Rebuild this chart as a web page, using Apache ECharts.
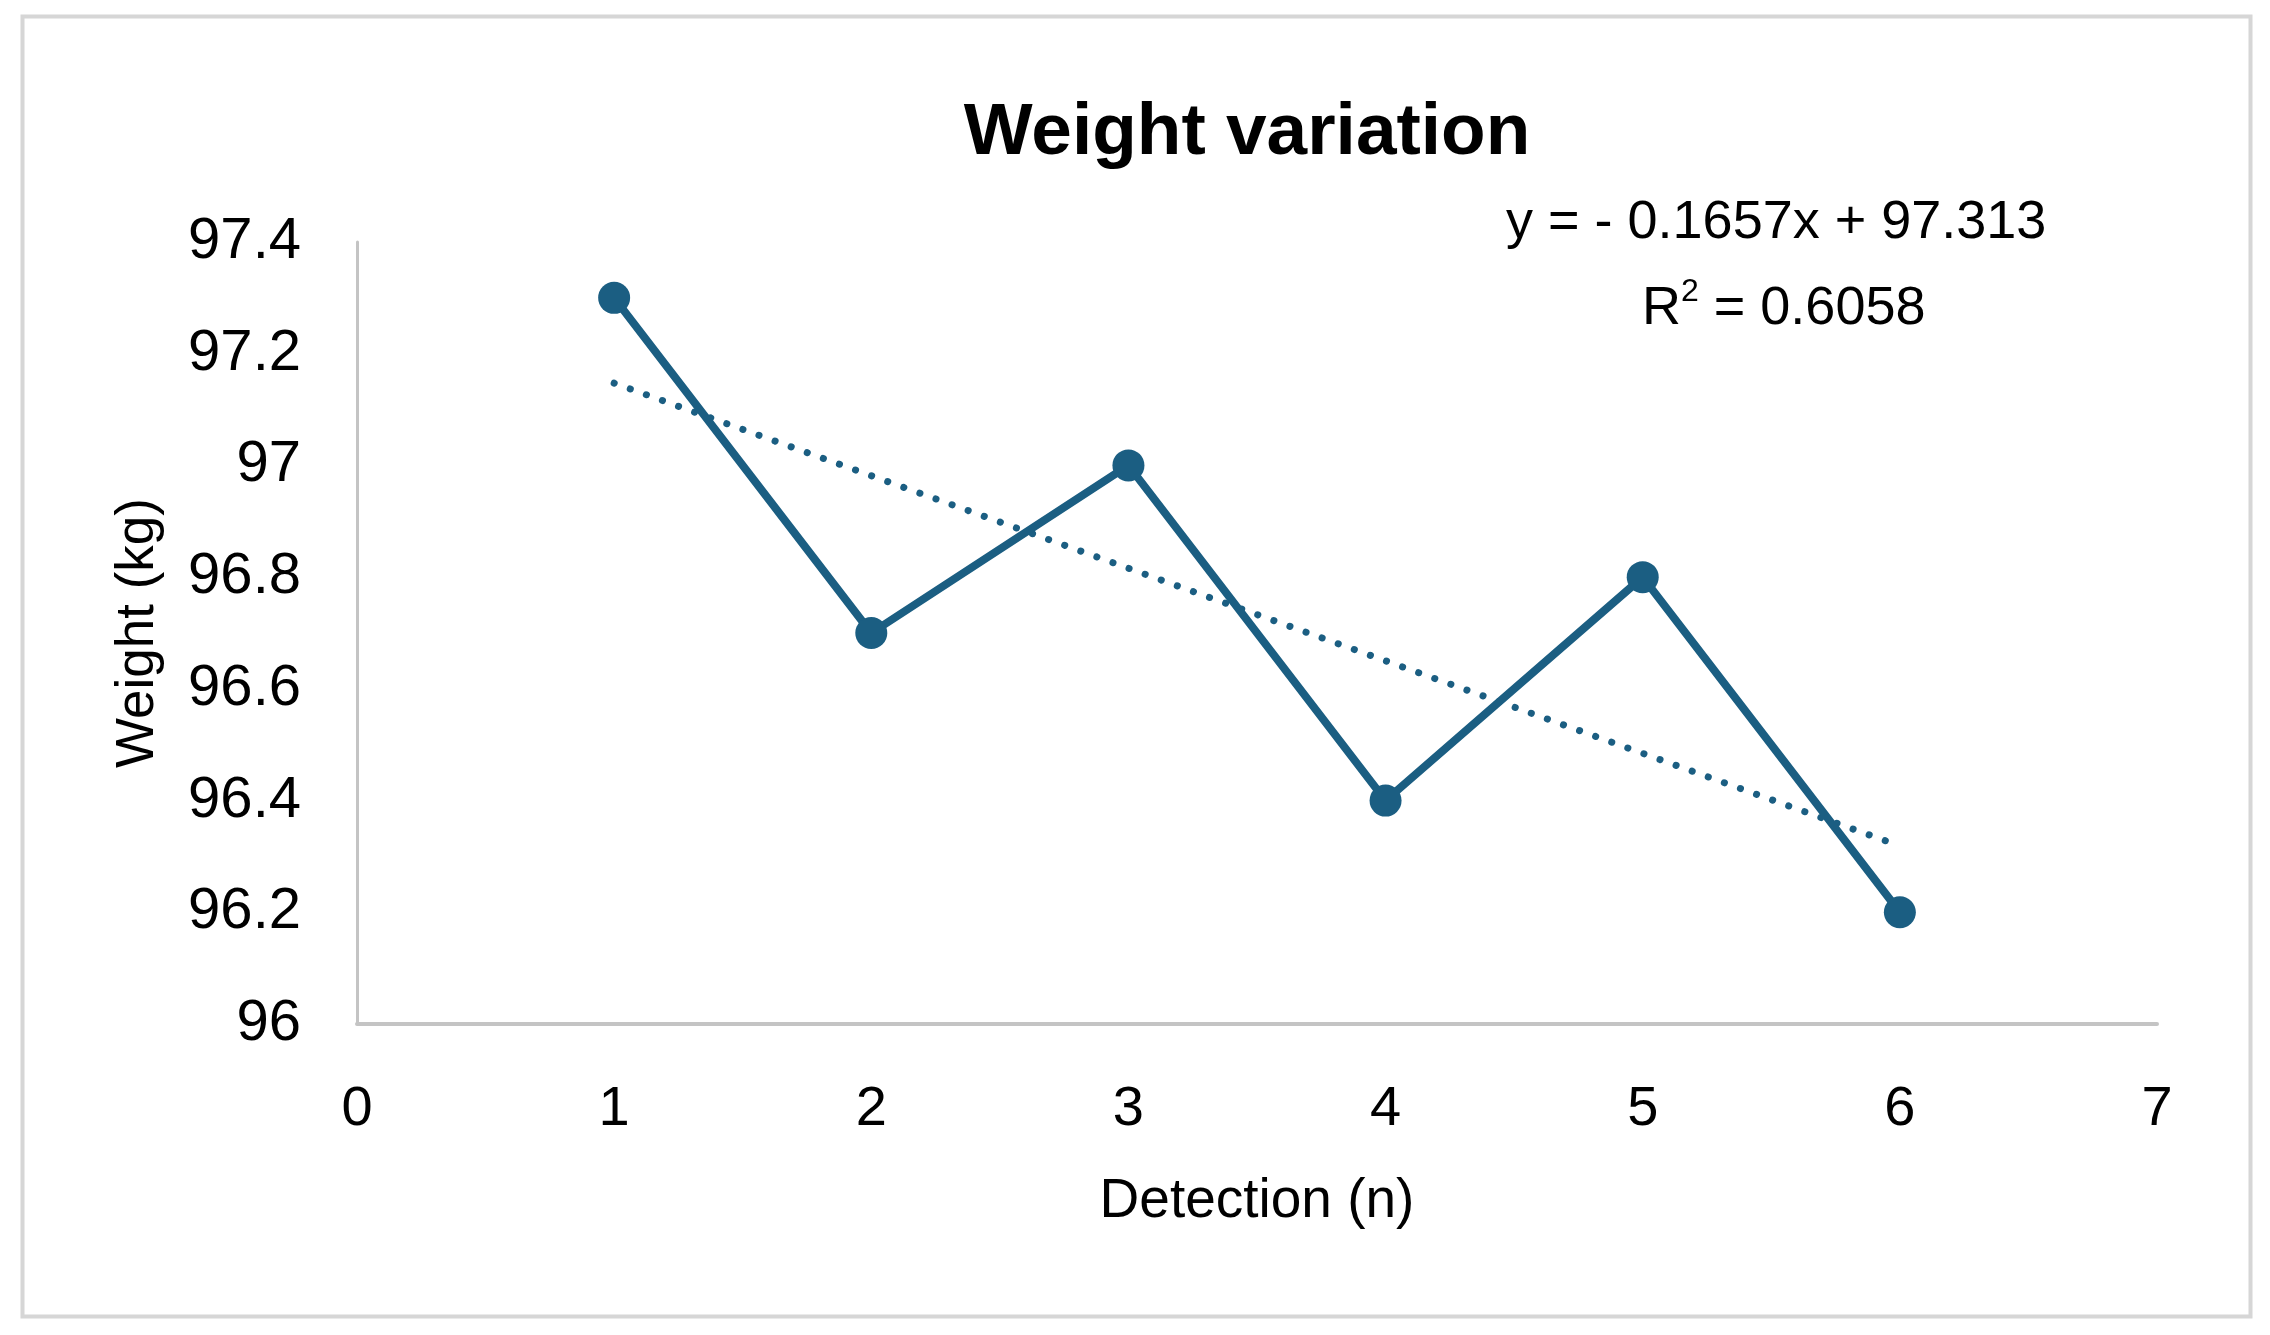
<!DOCTYPE html>
<html>
<head>
<meta charset="utf-8">
<script src="https://cdn.jsdelivr.net/npm/echarts@6/dist/echarts.min.js"></script>
<style>
html,body{margin:0;padding:0;background:#fff;}
#chart{width:2270px;height:1335px;}
</style>
</head>
<body>
<div id="chart"></div>
<script>
const detections = [1, 2, 3, 4, 5, 6];
const weights = [97.3, 96.7, 97.0, 96.4, 96.8, 96.2];
const trendCoef = [-0.1657, 97.313]; // slope, intercept (from the chart's equation)
const trendRange = [1, 6];
const xTicks = [0, 1, 2, 3, 4, 5, 6, 7];
const yTicks = [96, 96.2, 96.4, 96.6, 96.8, 97, 97.2, 97.4];
const equationText = 'y = - 0.1657x + 97.313';
const r2Value = '0.6058';

const mainColor = '#1B5E82';
const font = '"Liberation Sans", Arial, sans-serif';

const pts = detections.map((x, i) => [x, weights[i]]);
const trendPts = trendRange.map(x => [x, trendCoef[0] * x + trendCoef[1]]);

const chart = echarts.init(document.getElementById('chart'), null, {renderer: 'canvas'});
chart.setOption({
  backgroundColor: '#ffffff',
  animation: false,
  title: {
    text: 'Weight variation',
    left: 1242, top: 92,
    textAlign: 'center',
    textStyle: {fontFamily: font, fontSize: 73, fontWeight: 'bold', color: '#000'}
  },
  graphic: [
    {type: 'rect', left: 20, top: 14, shape: {width: 2228, height: 1300},
     style: {fill: 'none', stroke: '#d6d6d6', lineWidth: 4}, z: -1},
    {type: 'text', left: 1506, top: 196,
     style: {text: equationText, font: '54px "Liberation Sans", Arial, sans-serif', fill: '#000'}},
    {type: 'text', left: 1642, top: 276,
     style: {
       text: '{b|R}{s|2}{b| = ' + r2Value + '}',
       rich: {
         b: {fontSize: 54, fontFamily: font, color: '#000', verticalAlign: 'bottom', lineHeight: 60},
         s: {fontSize: 32, fontFamily: font, color: '#000', verticalAlign: 'top', lineHeight: 60, padding: [0, 0, 26, 0]}
       }
     }}
  ],
  grid: {left: 357, right: 113, top: 242, bottom: 311, containLabel: false},
  xAxis: {
    type: 'value', min: xTicks[0], max: xTicks[xTicks.length - 1], interval: 1,
    name: 'Detection (n)', nameLocation: 'middle', nameGap: 150,
    nameTextStyle: {fontFamily: font, fontSize: 55, color: '#000'},
    axisLine: {show: true, lineStyle: {color: '#c4c4c4', width: 4}},
    axisTick: {show: false},
    splitLine: {show: false},
    axisLabel: {fontFamily: font, fontSize: 56, color: '#000', margin: 58}
  },
  yAxis: {
    type: 'value', min: yTicks[0], max: yTicks[yTicks.length - 1], interval: 0.2,
    name: 'Weight (kg)', nameLocation: 'middle', nameGap: 192,
    nameTextStyle: {fontFamily: font, fontSize: 53, color: '#000'},
    axisLine: {show: true, lineStyle: {color: '#c4c4c4', width: 3}},
    axisTick: {show: false},
    splitLine: {show: false},
    axisLabel: {fontFamily: font, fontSize: 58, color: '#000', margin: 56,
      formatter: v => String(Math.round(v * 10) / 10)}
  },
  series: [
    {
      type: 'line', data: trendPts, symbol: 'none', z: 2,
      lineStyle: {color: mainColor, width: 7, type: [0.1, 17], cap: 'round'}
    },
    {
      type: 'line', data: pts, symbol: 'circle', symbolSize: 32, z: 3,
      lineStyle: {color: mainColor, width: 8},
      itemStyle: {color: mainColor}
    }
  ]
});
</script>
</body>
</html>
